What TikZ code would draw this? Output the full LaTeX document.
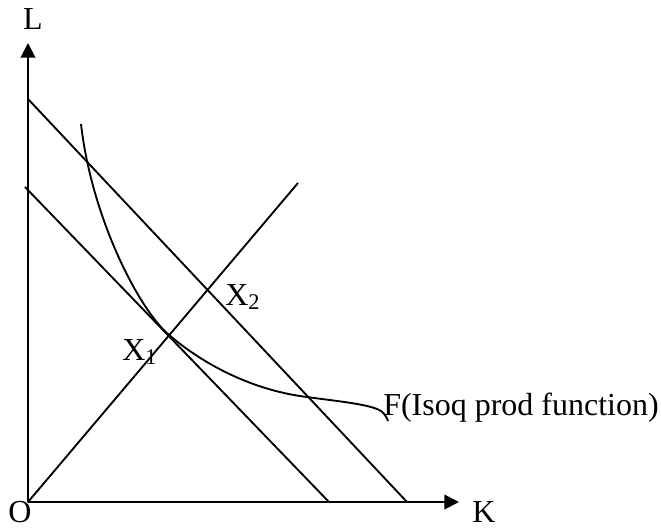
\documentclass[tikz,border=0pt]{standalone}
\usepackage{fontspec}
\setmainfont{Liberation Serif}
\usetikzlibrary{arrows.meta}
\tikzset{
    curveline/.style={line width=1.4pt, line join=round},
    axisline/.style={line width=1.4pt, -{Triangle[length=11pt, width=11pt]}},
    lbl/.style={font=\fontsize{24}{28}\selectfont, inner sep=0pt}
}
\begin{document}
\begin{tikzpicture}[x=0.75pt, y=-0.75pt]
        \useasboundingbox (0,0) rectangle (661,529);

        % Key points
        \coordinate (O) at (28,502);
        \coordinate (Ltip) at (28,43);
        \coordinate (Ktip) at (459,502);

        % Axes
        \draw[axisline] (O) -- (Ltip);
        \draw[axisline] (O) -- (Ktip);

        % Axis labels
        \node[lbl] (Llab) at (33,19) {L};
        \node[lbl] (Olab) at (20,512) {O};
        \node[lbl] (Klab) at (484,512) {K};

        % Budget lines
        \coordinate (hiTop) at (28,99);
        \coordinate (hiEnd) at (407,502);
        \coordinate (loTop) at (25,187);
        \coordinate (loEnd) at (329,502);
        \draw[curveline] (hiTop) -- (hiEnd);
        \draw[curveline] (loTop) -- (loEnd);

        % Expansion path
        \coordinate (rayEnd) at (298,183);
        \draw[curveline] (O) -- (rayEnd);

        % Isoquant
        \coordinate (isoTop) at (81,124);
        \coordinate (tan1) at (168,334);
        \coordinate (cut2) at (307,397);
        \coordinate (isoEnd) at (388,421);
        \draw[curveline] (isoTop) .. controls (92,220) and (140,310) .. (tan1)
            .. controls (200,362) and (250,390) .. (cut2)
            .. controls (335,401) and (370,404) .. (381,411)
            .. controls (385,414) and (387,418) .. (isoEnd);

        % Point labels
        \node[lbl, anchor=base west] (Xone) at (122,360) {X\textsubscript{1}};
        \node[lbl, anchor=base west] (Xtwo) at (225,305) {X\textsubscript{2}};
        \node[lbl, anchor=base west] (Flab) at (383,415) {F(Isoq prod function)};
    \end{tikzpicture}
\end{document}
